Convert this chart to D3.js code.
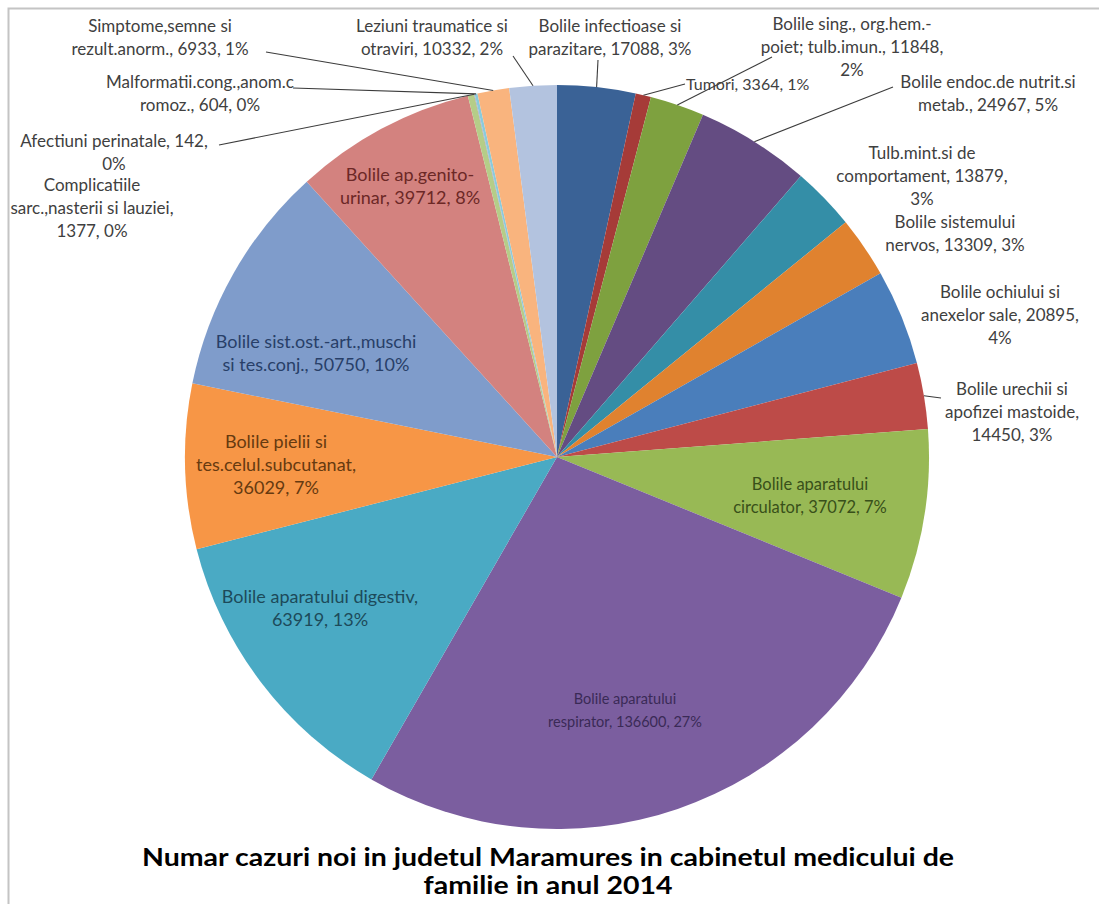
<!DOCTYPE html>
<html><head><meta charset="utf-8">
<script src="https://cdn.jsdelivr.net/npm/d3@7"></script>
<style>html,body{margin:0;padding:0;background:#fff;} svg{display:block;}</style>
</head><body>
<script>
// ---- data ----
const categories = [
  "Bolile infectioase si parazitare", "Tumori", "Bolile sing., org.hem.-poiet; tulb.imun.",
  "Bolile endoc.de nutrit.si metab.", "Tulb.mint.si de comportament", "Bolile sistemului nervos",
  "Bolile ochiului si anexelor sale", "Bolile urechii si apofizei mastoide", "Bolile aparatului circulator",
  "Bolile aparatului respirator", "Bolile aparatului digestiv", "Bolile pielii si tes.celul.subcutanat",
  "Bolile sist.ost.-art.,muschi si tes.conj.", "Bolile ap.genito-urinar", "Complicatiile sarc.,nasterii si lauziei",
  "Afectiuni perinatale", "Malformatii.cong.,anom.cromoz.", "Simptome,semne si rezult.anorm.",
  "Leziuni traumatice si otraviri"
];
const values = [17088, 3364, 11848, 24967, 13879, 13309, 20895, 14450, 37072, 136600,
                63919, 36029, 50750, 39712, 1377, 142, 604, 6933, 10332];
const percents = ["3%","1%","2%","5%","3%","3%","4%","3%","7%","27%","13%","7%","10%","8%","0%","0%","0%","1%","2%"];
const labelLines = [
  ["Bolile infectioase si", "parazitare, 17088, 3%"],
  ["Tumori, 3364, 1%"],
  ["Bolile sing., org.hem.-", "poiet; tulb.imun., 11848,", "2%"],
  ["Bolile endoc.de nutrit.si", "metab., 24967, 5%"],
  ["Tulb.mint.si de", "comportament, 13879,", "3%"],
  ["Bolile sistemului", "nervos, 13309, 3%"],
  ["Bolile ochiului si", "anexelor sale, 20895,", "4%"],
  ["Bolile urechii si", "apofizei mastoide,", "14450, 3%"],
  ["Bolile aparatului", "circulator, 37072, 7%"],
  ["Bolile aparatului", "respirator, 136600, 27%"],
  ["Bolile aparatului digestiv,", "63919, 13%"],
  ["Bolile pielii si", "tes.celul.subcutanat,", "36029, 7%"],
  ["Bolile sist.ost.-art.,muschi", "si tes.conj., 50750, 10%"],
  ["Bolile ap.genito-", "urinar, 39712, 8%"],
  ["Complicatiile", "sarc.,nasterii si lauziei,", "1377, 0%"],
  ["Afectiuni perinatale, 142,", "0%"],
  ["Malformatii.cong.,anom.c", "romoz., 604, 0%"],
  ["Simptome,semne si", "rezult.anorm., 6933, 1%"],
  ["Leziuni traumatice si", "otraviri, 10332, 2%"]
];
const titleLines = ["Numar cazuri noi in judetul Maramures in cabinetul medicului de", "familie in anul 2014"];

// ---- styles / layout ----
const colors = ["#3a6296","#a63b38","#7ea13f","#644c82","#348ea7","#e0822f","#4a7ebb","#bd4b48",
                "#98b955","#7b5e9f","#4aaac4","#f79646","#7f9ccb","#d3827f","#b5cd88","#a898c0",
                "#8acbdc","#f9b47e","#b3c3df"];
// label placement: [x, y of first line, anchor, text colour, font px, leader end x, leader end y]
const labelLayout = [
  [610, 28, "middle", "#404040", 17, 598, 60],
  [686, 86, "start",  "#404040", 16, 685, 84],
  [852, 26, "middle", "#404040", 17, 772, 57],
  [988, 84, "middle", "#404040", 17, 893, 87],
  [922, 155, "middle", "#404040", 17, null, null],
  [955, 224, "middle", "#404040", 17, null, null],
  [1000, 294, "middle", "#404040", 17, null, null],
  [1012, 391, "middle", "#404040", 17, 941, 398],
  [810, 486, "middle", "#38501a", 16.5, null, null],
  [625, 700, "middle", "#3a2a56", 14.5, null, null],
  [320, 598, "middle", "#1d4a5a", 18, null, null],
  [276, 443, "middle", "#663a10", 18, null, null],
  [316, 343, "middle", "#283f68", 18, null, null],
  [410, 176, "middle", "#6c2826", 18, null, null],
  [92, 187, "middle", "#404040", 17, null, null],
  [114, 143, "middle", "#404040", 17, 219, 145],
  [200, 84, "middle", "#404040", 17, 293, 88],
  [160, 28, "middle", "#404040", 17, 266, 52],
  [432, 28, "middle", "#404040", 17, 513, 56]
];

const W = 1099, H = 904;
const cx = 557, cy = 457, R = 372;
const lineH = 23;

const svg = d3.select("body").append("svg").attr("width", W).attr("height", H);
svg.append("rect").attr("x", 8.5).attr("y", 8.5).attr("width", W).attr("height", H)
   .attr("fill", "#fff").attr("stroke", "#c4c4c4").attr("stroke-width", 2);

const pie = d3.pie().sort(null).value(d => d)(values);
const arc = d3.arc().innerRadius(0).outerRadius(R);
const edge = d3.arc().innerRadius(R).outerRadius(R);

const g = svg.append("g").attr("transform", `translate(${cx},${cy})`);
g.selectAll("path.slice").data(pie).join("path").attr("class", "slice")
  .attr("d", arc).attr("fill", (d, i) => colors[i]);

// leader lines
const leaders = svg.append("g");
pie.forEach((d, i) => {
  const L = labelLayout[i];
  if (L[5] == null) return;
  const p = edge.centroid(d);
  leaders.append("line")
    .attr("x1", cx + p[0]).attr("y1", cy + p[1])
    .attr("x2", L[5]).attr("y2", L[6])
    .attr("stroke", "#3c3c3c").attr("stroke-width", 1.1);
});

// labels
const lab = svg.append("g").style("font-family", "Lato, 'Open Sans', sans-serif");
labelLines.forEach((lines, i) => {
  const L = labelLayout[i];
  const t = lab.append("text").attr("text-anchor", L[2]).attr("fill", L[3])
     .style("font-size", L[4] + "px").attr("dominant-baseline", "middle");
  lines.forEach((s, k) => {
    t.append("tspan").attr("x", L[0]).attr("y", L[1] + k * lineH).text(s);
  });
});

// title (narrow bold face emulated by horizontal stretch to the reference width)
const titleG = svg.append("g");
const tls = titleLines.map((s, k) => titleG.append("text").attr("text-anchor", "middle")
  .style("font-family", "Lato, 'Open Sans', sans-serif").style("font-weight", "bold")
  .style("font-size", "25px").attr("fill", "#000")
  .attr("x", 548).attr("y", 866 + k * 28).text(s));
const w0 = tls[0].node().getComputedTextLength();
const s = 812 / w0;
tls.forEach(t => {
  const w = t.node().getComputedTextLength();
  t.attr("textLength", w * s).attr("lengthAdjust", "spacingAndGlyphs");
});
</script>
</body></html>
